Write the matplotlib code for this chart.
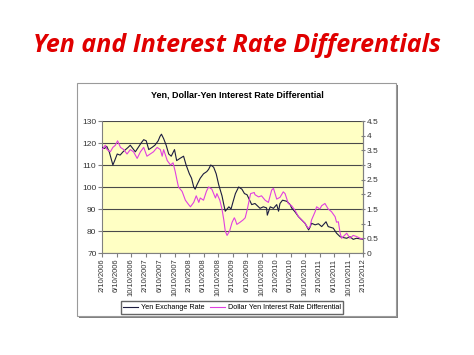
import matplotlib.pyplot as plt
from matplotlib.patches import Rectangle

# months after 2/10/2006
yen_t = [0, 0.7, 1.3, 2, 2.5, 3.0, 3.5, 4.2, 5, 5.8, 6.5, 7.2, 7.8, 8.5, 9.2, 10, 10.8,
         11.5, 12.2, 12.9, 13.8, 14.6, 15.5, 16.0, 16.4, 17, 17.7, 18.4, 19.1, 20, 20.6,
         21.5, 22.5, 23.2, 24.1, 24.7, 25.3, 25.7, 26.2, 27.1, 28, 28.9, 29.4, 30, 30.8,
         31.5, 32.2, 33.1, 33.6, 34, 35, 35.6, 36.1, 36.8, 37.7, 38.6, 39.3, 40, 41.3,
         42.2, 43.6, 44.5, 45.4, 45.6, 46.4, 47.3, 48.2, 48.7, 49.1, 49.8, 51, 51.9, 52.3,
         53.2, 54.2, 55.1, 56, 56.5, 57, 57.4, 57.8, 58.8, 59.7, 60.6, 61.8, 62.4, 63.8,
         64.7, 65.7, 66.6, 67.5, 68.4, 69.3, 70.2, 72]
yen_rate = [118, 117.5, 118.5, 116, 113, 110, 112, 115, 114.5, 116, 117, 118, 119, 117.5,
            116, 118, 120, 121.5, 121, 117, 118, 119, 121, 123, 124, 122, 119, 115, 114,
            117, 112, 113, 114, 110, 106, 104, 100, 99, 101, 104, 106, 107, 108, 110, 109,
            106, 101, 96, 92, 89, 91, 90, 93, 97, 100, 99, 97, 96.5, 92, 92.5, 90.3, 91,
            90.5, 87.2, 91, 90.3, 92, 89, 92.5, 94, 93.5, 92, 90.5, 88.8, 86.5, 85, 83.5,
            82, 80.5, 81.8, 83.5, 82.8, 83.3, 82, 84.2, 82, 81.3, 79, 77.4, 77, 76.7, 77.4,
            76.2, 76.7, 76.2]

diff_t = [0, 0.9, 1.4, 2.3, 3.0, 3.7, 4.3, 5.1, 6, 6.9, 7.8, 8.7, 9.7, 10.6, 11.5, 12.4,
          13.3, 14.2, 15.2, 16.1, 16.6, 17, 18, 18.9, 19.6, 20.2, 20.7, 21.1, 22.1, 23,
          23.9, 24.4, 25.3, 26, 26.7, 27.1, 28, 28.8, 29.4, 30.3, 31.3, 31.7, 32.5, 33.1,
          33.6, 34, 34.5, 35.2, 35.9, 36.5, 36.8, 37.2, 38.1, 38.9, 39.5, 40.1, 40.6, 41,
          42, 42.2, 43.2, 44, 45, 45.9, 46.8, 47.3, 48.2, 49.1, 50, 50.5, 51.4, 52.3, 53.2,
          54.2, 55.1, 56, 56.9, 57.4, 57.8, 58.8, 59.2, 60.1, 60.6, 61.5, 62.4, 63.3, 64.3,
          64.7, 65.2, 65.7, 66.1, 66.6, 67.5, 68.4, 69.3, 70.2, 71.6, 72]
diff_on_left = [117, 119, 117, 116, 118, 119, 121, 118, 117, 115, 117, 116, 113, 116, 118,
                114, 115, 116, 118, 117, 114, 117, 112, 110, 111, 107, 103, 100, 98, 94,
                92, 91, 93, 96, 93, 95, 94, 98, 100, 99, 95, 97, 94, 90, 85, 80, 78, 80,
                84, 86, 85, 83, 84, 85, 86, 90, 94, 97, 97.5, 96.5, 95.5, 96, 94, 93, 98.6,
                99.4, 94.5, 95.3, 97.8, 97, 92.5, 91.5, 89.5, 86.5, 85, 83.5, 81.2, 82, 85,
                88.8, 91, 90, 91.5, 92.5, 90, 88.8, 86.5, 84, 84.2, 79, 76.7, 77.5, 79,
                76.7, 78, 77.5, 76.4, 76.5]
# differential in percent (right axis)
diff_pct = [(v - 70) * 4.5 / 60 for v in diff_on_left]

tick_months = list(range(0, 73, 4))
tick_labels = ['2/10/2006', '6/10/2006', '10/10/2006', '2/10/2007', '6/10/2007',
               '10/10/2007', '2/10/2008', '6/10/2008', '10/10/2008', '2/10/2009',
               '6/10/2009', '10/10/2009', '2/10/2010', '6/10/2010', '10/10/2010',
               '2/10/2011', '6/10/2011', '10/10/2011', '2/10/2012']

W, H = 474, 355
fig = plt.figure(figsize=(W / 100, H / 100), dpi=100)
plt.rcParams['font.family'] = ['Liberation Sans', 'DejaVu Sans']

fig.text(237 / W, 1 - 45 / H, 'Yen and Interest Rate Differentials', color='#E00000',
         fontsize=18, fontweight='bold', fontstyle='italic', ha='center', va='center',
         family=['Open Sans', 'DejaVu Sans'])

# chart frame with shadow
fig.patches.append(Rectangle((79 / W, 1 - 318 / H), 319 / W, 233 / H,
                             transform=fig.transFigure, facecolor='#808080',
                             edgecolor='none', zorder=-2))
fig.patches.append(Rectangle((77 / W, 1 - 316 / H), 319 / W, 233 / H,
                             transform=fig.transFigure, facecolor='white',
                             edgecolor='#9a9a9a', lw=0.8, zorder=-1))

fig.text(237 / W, 1 - 95 / H, 'Yen, Dollar-Yen Interest Rate Differential',
         fontsize=6.5, fontweight='bold', ha='center', va='center')

ax = fig.add_axes([102 / W, 1 - 253 / H, 261 / W, 132 / H])
ax.set_facecolor('#FFFFC4')
ax.plot(yen_t, yen_rate, color='#1c1c40', lw=0.8, label='Yen Exchange Rate', zorder=3)
ax.set_xlim(0, 72)
ax.set_ylim(70, 130)
ax.set_yticks(range(70, 131, 10))
ax.set_xticks(tick_months)
ax.set_xticklabels(tick_labels, rotation=90, fontsize=5.5, color='#333333')
ax.tick_params(axis='y', labelsize=6, length=3, pad=1, color='#808080', labelcolor='#333333')
ax.tick_params(axis='x', length=3, pad=1, color='#808080')
ax.grid(axis='y', color='#4a4a4a', lw=0.8)
for s in ax.spines.values():
    s.set_color('#808080')
ax.spines['top'].set_visible(False)

ax2 = ax.twinx()
ax2.plot(diff_t, diff_pct, color='#E040E0', lw=0.8,
         label='Dollar Yen Interest Rate Differential', zorder=3)
ax2.set_ylim(0, 4.5)
rt = [i * 0.5 for i in range(10)]
ax2.set_yticks(rt)
ax2.set_yticklabels(['%g' % v for v in rt])
ax2.tick_params(axis='y', labelsize=6, length=3, pad=1, color='#808080', direction='inout',
                labelcolor='#333333')
for s in ax2.spines.values():
    s.set_visible(False)
ax2.spines['right'].set_visible(True)
ax2.spines['right'].set_color('#808080')

h1, l1 = ax.get_legend_handles_labels()
h2, l2 = ax2.get_legend_handles_labels()
fig.legend(h1 + h2, l1 + l2, loc='center', bbox_to_anchor=(232 / W, 1 - 307.5 / H),
           ncol=2, fontsize=5.2, frameon=True, fancybox=False, edgecolor='#404040',
           handlelength=2.0, columnspacing=0.8, borderpad=0.35, handletextpad=0.4)

fig.savefig('out.png', dpi=100)
